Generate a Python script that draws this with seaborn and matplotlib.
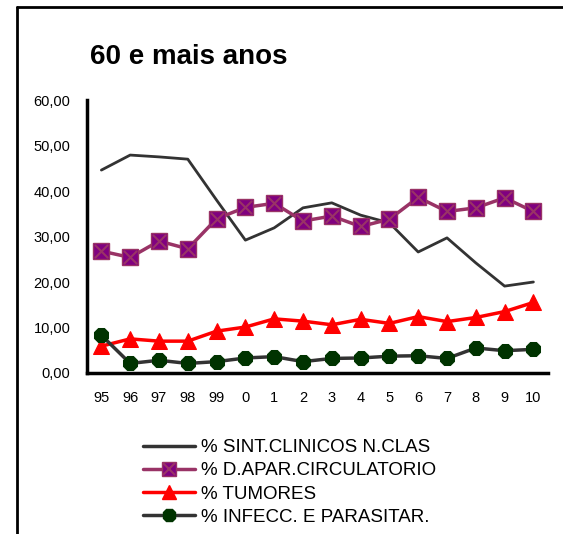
import numpy as np
import pandas as pd
import matplotlib.pyplot as plt
import seaborn as sns
from matplotlib.lines import Line2D
from matplotlib.legend_handler import HandlerTuple

# Data
anos = ['95', '96', '97', '98', '99', '0', '1', '2', '3', '4', '5', '6', '7', '8', '9', '10']
sint_clinicos = [44.6, 47.9, 47.5, 47.0, 38.0, 29.2, 31.9, 36.3, 37.4, 34.7, 33.0, 26.6, 29.7, 24.2, 19.1, 20.0]
circulatorio = [26.8, 25.4, 29.0, 27.3, 33.9, 36.4, 37.3, 33.4, 34.5, 32.2, 33.8, 38.6, 35.5, 36.3, 38.5, 35.5]
tumores = [5.9, 7.5, 7.0, 7.0, 9.2, 10.1, 11.9, 11.4, 10.6, 11.8, 10.9, 12.4, 11.3, 12.2, 13.5, 15.5]
infecciosas = [8.3, 2.1, 2.8, 2.1, 2.5, 3.3, 3.6, 2.5, 3.2, 3.3, 3.7, 3.8, 3.2, 5.5, 4.9, 5.2]
y_ticks = [0, 10, 20, 30, 40, 50, 60]

df = pd.DataFrame({
    'pos': np.arange(len(anos)),
    'sint': sint_clinicos,
    'circ': circulatorio,
    'tum': tumores,
    'inf': infecciosas,
})

sns.set_style('white')
plt.rcParams['font.family'] = ['Liberation Sans', 'DejaVu Sans']
plt.rcParams['text.color'] = 'black'
plt.rcParams['xtick.color'] = 'black'
plt.rcParams['ytick.color'] = 'black'

fig = plt.figure(figsize=(5.63, 5.34), dpi=100)
ax = fig.add_axes([0.1545, 0.3015, 0.8185, 0.5112])

sns.lineplot(data=df, x='pos', y='sint', ax=ax, color='#333333', lw=2, zorder=2)
sns.lineplot(data=df, x='pos', y='circ', ax=ax, color='#993366', lw=2.5,
             marker='s', markersize=11, markerfacecolor='#800080',
             markeredgecolor='#993366', markeredgewidth=1, zorder=3)
ax.scatter(df['pos'], df['circ'], marker='x', s=90, color='#993366', lw=1.5, zorder=4)
sns.lineplot(data=df, x='pos', y='tum', ax=ax, color='#ff0000', lw=2.5,
             marker='^', markersize=11, markerfacecolor='#ff0000',
             markeredgecolor='#ff0000', zorder=3)
sns.lineplot(data=df, x='pos', y='inf', ax=ax, color='#333333', lw=2.5,
             marker='8', markersize=11, markerfacecolor='#003300',
             markeredgecolor='#003300', zorder=3)

ax.set_xlim(-0.5, len(anos) - 0.5)
ax.set_ylim(0, 60)
ax.set_yticks(y_ticks)
ax.set_yticklabels([f'{v:.2f}'.replace('.', ',') for v in y_ticks])
ax.set_xticks(df['pos'])
ax.set_xticklabels(anos)
ax.set_xticks(np.arange(-0.5, len(anos)), minor=True)
ax.tick_params(axis='x', which='major', length=0, pad=13, labelsize=10.5, labelcolor='black')
ax.tick_params(axis='x', which='minor', direction='out', length=5, width=2, color='black')
ax.tick_params(axis='y', direction='out', length=6, width=2, color='black',
               labelsize=10.5, pad=6, labelcolor='black')
ax.set_xlabel('')
ax.set_ylabel('')
for side in ['top', 'right']:
    ax.spines[side].set_visible(False)
for side in ['left', 'bottom']:
    ax.spines[side].set_color('black')
    ax.spines[side].set_linewidth(2.5)

fig.text(0.16, 0.894, '60 e mais anos', fontsize=20, fontweight='bold', va='center', color='black')

# outer chart frame (only top and left edges visible)
fig.add_artist(Line2D([17 / 563, 1.0], [1 - 7 / 534, 1 - 7 / 534], color='black', lw=2))
fig.add_artist(Line2D([17 / 563, 17 / 563], [0.0, 1 - 7 / 534], color='black', lw=2))

h_sint = Line2D([], [], color='#333333', lw=2.5)
h_circ = (Line2D([], [], color='#993366', lw=2.5, marker='s', markersize=10,
                 markerfacecolor='#800080', markeredgecolor='#993366'),
          Line2D([], [], ls='none', marker='x', markersize=8, color='#993366', mew=1.5))
h_tum = Line2D([], [], color='#ff0000', lw=2.5, marker='^', markersize=10)
h_inf = Line2D([], [], color='#333333', lw=2.5, marker='8', markersize=10,
               markerfacecolor='#003300', markeredgecolor='#003300')
leg = fig.legend([h_sint, h_circ, h_tum, h_inf],
                 ['% SINT.CLINICOS N.CLAS', '% D.APAR.CIRCULATORIO', '% TUMORES', '% INFECC. E PARASITAR.'],
                 handler_map={tuple: HandlerTuple(ndivide=1, pad=0)},
                 loc='upper left', bbox_to_anchor=(0.254, 0.178), frameon=False,
                 fontsize=13.5, handlelength=2.75, handletextpad=0.35, labelspacing=0.33,
                 borderaxespad=0, borderpad=0)
for t in leg.get_texts():
    t.set_color('black')

fig.savefig('out.png', dpi=100)
